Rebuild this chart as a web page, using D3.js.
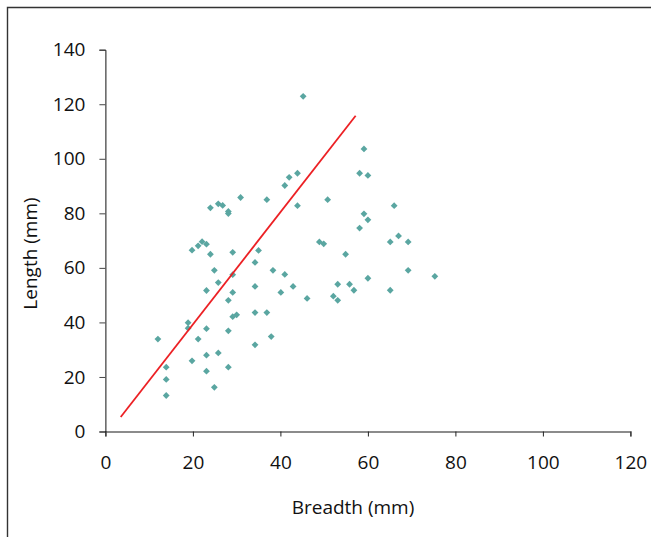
<!DOCTYPE html>
<html>
<head>
<meta charset="utf-8">
<script src="https://cdn.jsdelivr.net/npm/d3@7"></script>
<style>
  body { margin: 0; background: #fff; }
  .chart text { font-family: "Open Sans", sans-serif; fill: #111; }
</style>
</head>
<body>
<div class="chart"></div>
<script>
// breadth (x) and length (y) of each specimen, in mm
var breadth = [45.2, 59.1, 58.1, 60.0, 43.9, 42.0, 41.0, 30.9, 36.9, 50.8,
  25.8, 26.8, 24.0, 28.1, 28.1, 43.9, 66.0, 59.1, 60.0, 58.1,
  67.0, 65.1, 69.2, 48.9, 49.9, 22.1, 23.1, 21.2, 19.8, 29.1,
  35.0, 24.0, 54.9, 34.2, 24.9, 38.3, 69.2, 29.1, 41.0, 75.3,
  60.0, 25.8, 53.1, 55.8, 34.2, 42.9, 23.1, 56.8, 65.1, 29.1,
  40.1, 52.1, 28.1, 53.1, 46.1, 34.2, 36.9, 30.0, 29.1, 18.9,
  18.9, 23.1, 28.1, 37.9, 12.0, 21.2, 34.2, 25.8, 23.1, 19.8,
  13.9, 28.1, 23.1, 13.9, 24.9, 13.9];
var length = [122.9, 103.6, 94.7, 93.9, 94.7, 93.2, 90.2, 85.8, 85.0, 85.0,
  83.5, 82.9, 82.0, 80.7, 79.9, 82.8, 82.8, 79.8, 77.6, 74.6,
  71.7, 69.5, 69.5, 69.5, 68.8, 69.6, 68.7, 68.1, 66.5, 65.7,
  66.4, 65.0, 65.0, 62.0, 59.1, 59.1, 59.1, 57.5, 57.6, 56.9,
  56.2, 54.6, 54.0, 54.0, 53.2, 53.2, 51.7, 51.8, 51.8, 51.0,
  51.0, 49.6, 48.1, 48.1, 48.8, 43.6, 43.6, 42.8, 42.1, 39.9,
  37.9, 37.7, 36.9, 34.8, 33.9, 33.9, 31.8, 28.8, 28.0, 25.9,
  23.6, 23.6, 22.1, 19.1, 16.2, 13.2];

// fitted line, two end points
var lineX = [3.5, 57.2];
var lineY = [5.3, 115.8];

var xTicks = [0, 20, 40, 60, 80, 100, 120];
var yTicks = [0, 20, 40, 60, 80, 100, 120, 140];

var W = 651, H = 537;
var margin = {top: 49.7, left: 105.4},
    width = 525,
    height = 381.8;

var svg = d3.select('.chart')
  .append('svg')
  .attr('width', W)
  .attr('height', H);

// frame (top and left only)
svg.append('path')
  .attr('d', 'M7.5,' + H + 'V7.5H' + W)
  .attr('fill', 'none')
  .attr('stroke', '#333')
  .attr('stroke-width', 1.4);

var g = svg.append('g')
  .attr('transform', 'translate(' + margin.left + ',' + margin.top + ')');

var xScale = d3.scaleLinear().domain([0, 120]).range([0, width]);
var yScale = d3.scaleLinear().domain([0, 140]).range([height, 0]);

// AXES
var xAxis = d3.axisBottom(xScale)
  .tickValues(xTicks)
  .tickSize(5)
  .tickPadding(19);
var yAxis = d3.axisLeft(yScale)
  .tickValues(yTicks)
  .tickSize(6)
  .tickPadding(14);

var gx = g.append('g')
  .attr('transform', 'translate(0,' + height + ')')
  .call(xAxis);
gx.select('.domain').attr('stroke', '#666').attr('stroke-width', 1.4);
gx.selectAll('.tick line').attr('stroke', '#222');

var gy = g.append('g').call(yAxis);
gy.select('.domain').attr('stroke', '#111');
gy.selectAll('.tick line').attr('stroke', '#444');

g.selectAll('.tick text')
  .attr('font-family', '"Open Sans", sans-serif')
  .attr('font-size', 19)
  .attr('fill', '#111');

// POINTS
var diamond = d3.symbol().type(d3.symbolSquare).size(23);
g.selectAll('.pt')
  .data(breadth)
  .enter()
  .append('path')
  .attr('class', 'pt')
  .attr('d', diamond)
  .attr('transform', (d, i) => 'translate(' + xScale(d) + ',' + yScale(length[i]) + ') rotate(45)')
  .attr('fill', '#5aa6a1');

// TREND LINE
g.append('line')
  .attr('x1', xScale(lineX[0]))
  .attr('y1', yScale(lineY[0]))
  .attr('x2', xScale(lineX[1]))
  .attr('y2', yScale(lineY[1]))
  .attr('stroke', '#ec2024')
  .attr('stroke-width', 1.8);

// LABELS
svg.append('text')
  .attr('x', 353)
  .attr('y', 514)
  .attr('text-anchor', 'middle')
  .attr('font-size', 19)
  .text('Breadth (mm)');

svg.append('text')
  .attr('transform', 'translate(37,253.5) rotate(-90)')
  .attr('text-anchor', 'middle')
  .attr('font-size', 19)
  .text('Length (mm)');
</script>
</body>
</html>
